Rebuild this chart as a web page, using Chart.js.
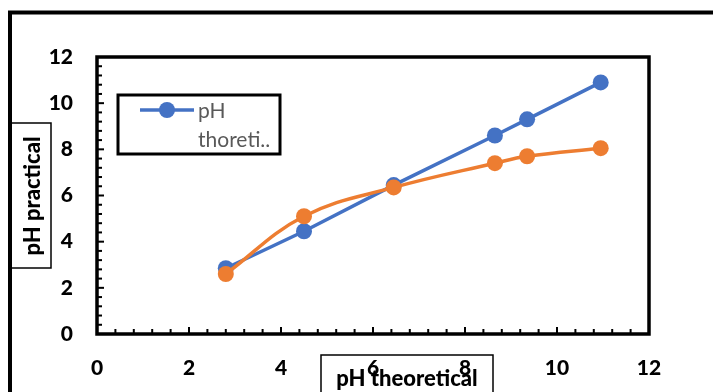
<!DOCTYPE html>
<html lang="en">
<head>
    <meta charset="UTF-8">
    <meta name="viewport" content="initial-scale=1.0">
    <title>pH theoretical vs pH practical</title>
    <script src="https://cdn.jsdelivr.net/npm/chart.js"></script>
    <style>
        body { margin: 0; padding: 0; background: #fff; }
        canvas { display: block; }
    </style>
</head>
<body>

<canvas id="phChart" width="713" height="392"></canvas>

<script>
    // values
    const phTheoretical = [2.8, 4.5, 6.45, 8.65, 9.35, 10.95];   // x values
    const phTheoreticalY = [2.85, 4.45, 6.45, 8.6, 9.3, 10.9];    // blue series
    const phPractical = [2.6, 5.1, 6.35, 7.4, 7.7, 8.05];         // orange series
    const axisTicks = [0, 2, 4, 6, 8, 10, 12];
    const legendLines = ['pH', 'thoreti..'];
    const xTitle = 'pH theoretical';
    const yTitle = 'pH practical';

    const BLUE = '#4472C4';
    const ORANGE = '#ED7D31';
    const FONT = 'Lato, "Open Sans", sans-serif';

    const toPoints = (xs, ys) => xs.map((x, i) => ({ x: x, y: ys[i] }));

    // frame, inward ticks, axis title boxes and the legend box
    const framePlugin = {
        id: 'frame',
        beforeDatasetsDraw(chart) {
            const { ctx, chartArea: a, scales } = chart;
            ctx.save();
            ctx.strokeStyle = '#000';
            ctx.lineWidth = 3.5;
            ctx.strokeRect(a.left, a.top, a.right - a.left, a.bottom - a.top);

            // minor ticks every 0.4, major every 2, all pointing inward
            ctx.lineWidth = 2;
            for (let i = 0; i <= 30; i++) {
                const v = i * 0.4;
                const len = i % 5 === 0 ? 7 : 5;
                const px = scales.x.getPixelForValue(v);
                ctx.beginPath();
                ctx.moveTo(px, a.bottom);
                ctx.lineTo(px, a.bottom - len);
                ctx.stroke();
                const py = scales.y.getPixelForValue(v);
                ctx.beginPath();
                ctx.moveTo(a.left, py);
                ctx.lineTo(a.left + len, py);
                ctx.stroke();
            }
            ctx.restore();
        },
        afterDraw(chart) {
            const ctx = chart.ctx;
            ctx.save();

            // outer frame (left and top edges)
            ctx.strokeStyle = '#000';
            ctx.lineWidth = 4;
            ctx.beginPath();
            ctx.moveTo(10, 400);
            ctx.lineTo(10, 12.5);
            ctx.lineTo(720, 12.5);
            ctx.stroke();

            // y axis title in its box
            ctx.lineWidth = 1.5;
            ctx.strokeRect(11, 123, 40, 145);
            ctx.fillStyle = '#000';
            ctx.font = '900 22px ' + FONT;
            ctx.textAlign = 'center';
            ctx.textBaseline = 'middle';
            ctx.save();
            ctx.translate(33, 196);
            ctx.rotate(-Math.PI / 2);
            ctx.fillText(yTitle, 0, 0);
            ctx.restore();

            // x axis title in its box
            ctx.strokeRect(321, 355, 172, 50);
            ctx.textBaseline = 'alphabetic';
            ctx.fillText(xTitle, 407, 386);

            // legend (blue series only)
            ctx.lineWidth = 3;
            ctx.strokeRect(118, 95, 162, 59);
            ctx.strokeStyle = BLUE;
            ctx.lineWidth = 3.5;
            ctx.beginPath();
            ctx.moveTo(140, 110);
            ctx.lineTo(194, 110);
            ctx.stroke();
            ctx.fillStyle = BLUE;
            ctx.beginPath();
            ctx.arc(167, 110, 8, 0, Math.PI * 2);
            ctx.fill();
            ctx.fillStyle = '#595959';
            ctx.font = '21px ' + FONT;
            ctx.textAlign = 'left';
            ctx.textBaseline = 'middle';
            ctx.fillText(legendLines[0], 198, 111);
            ctx.fillText(legendLines[1], 198, 140);

            ctx.restore();
        }
    };

    const ctx = document.getElementById('phChart').getContext('2d');
    const phChart = new Chart(ctx, {
        type: 'line',
        data: {
            datasets: [{
                label: 'pH thoretical',
                data: toPoints(phTheoretical, phTheoreticalY),
                borderColor: BLUE,
                backgroundColor: BLUE,
                borderWidth: 3.5,
                pointRadius: 8,
                pointBorderWidth: 0,
                tension: 0,
                order: 1
            }, {
                label: 'pH practical',
                data: toPoints(phTheoretical, phPractical),
                borderColor: ORANGE,
                backgroundColor: ORANGE,
                borderWidth: 3.5,
                pointRadius: 8,
                pointBorderWidth: 0,
                tension: 0.4,
                order: 0
            }]
        },
        options: {
            responsive: false,
            animation: false,
            layout: { padding: { top: 57, right: 64, left: 0, bottom: 0 } },
            plugins: {
                legend: { display: false },
                tooltip: { enabled: false }
            },
            scales: {
                x: {
                    type: 'linear',
                    min: 0,
                    max: 12,
                    afterFit: s => { s.height = 58; },
                    afterBuildTicks: s => { s.ticks = axisTicks.map(v => ({ value: v })); },
                    grid: { display: false, drawTicks: false },
                    border: { display: false },
                    ticks: {
                        padding: 22,
                        maxRotation: 0,
                        color: '#000',
                        font: { family: FONT, size: 21, weight: '900' }
                    }
                },
                y: {
                    type: 'linear',
                    min: 0,
                    max: 12,
                    afterFit: s => { s.width = 97; },
                    afterBuildTicks: s => { s.ticks = axisTicks.map(v => ({ value: v })); },
                    grid: { display: false, drawTicks: false },
                    border: { display: false },
                    ticks: {
                        padding: 24,
                        color: '#000',
                        font: { family: FONT, size: 21, weight: '900' }
                    }
                }
            }
        },
        plugins: [framePlugin]
    });
</script>

</body>
</html>
